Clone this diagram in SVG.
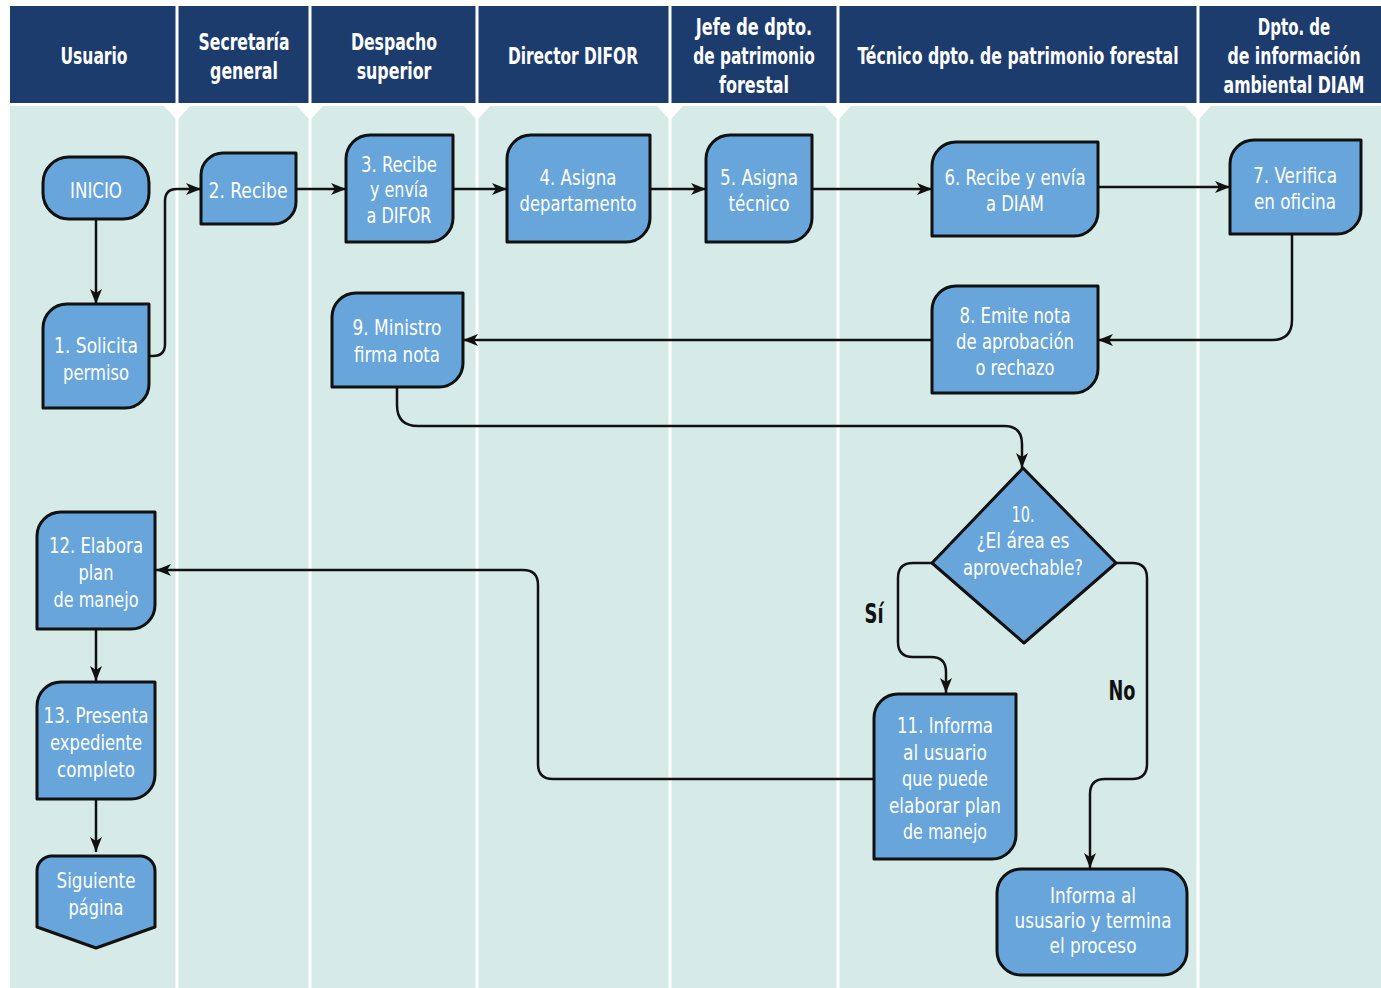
<svg xmlns="http://www.w3.org/2000/svg" width="1381" height="988" viewBox="0 0 1381 988">
<defs>
<style>
.h{font-family:"DejaVu Sans Condensed","DejaVu Sans","Liberation Sans",sans-serif;font-weight:bold;font-size:23px;fill:#fff;text-anchor:middle}
.t{font-family:"DejaVu Sans Condensed","DejaVu Sans","Liberation Sans",sans-serif;font-size:22px;fill:#fff;text-anchor:middle}
.l{font-family:"DejaVu Sans Condensed","DejaVu Sans","Liberation Sans",sans-serif;font-weight:bold;font-size:26px;fill:#111;text-anchor:middle}
.b{fill:#67a5da;stroke:#111;stroke-width:3;stroke-linejoin:round}
.c{fill:none;stroke:#111;stroke-width:2.5}
.sep{stroke:#fff;stroke-width:3}
</style>
<marker id="ah" markerUnits="userSpaceOnUse" markerWidth="16" markerHeight="12" refX="15" refY="6" orient="auto">
<path d="M0,0 L15,6 L0,12 L4,6 Z" fill="#111"/>
</marker>
</defs>
<rect x="0" y="0" width="1381" height="988" fill="#fff"/>
<g id="lanes">
<rect x="10" y="6" width="1371" height="97" fill="#1d3c6e"/>
<rect x="10" y="106" width="1371" height="882" fill="#d6ebe8"/>
<g class="sep">
<line x1="177" y1="6" x2="177" y2="988"/>
<line x1="310" y1="6" x2="310" y2="988"/>
<line x1="477" y1="6" x2="477" y2="988"/>
<line x1="670" y1="6" x2="670" y2="988"/>
<line x1="838" y1="6" x2="838" y2="988"/>
<line x1="1198" y1="6" x2="1198" y2="988"/>
</g>
<g fill="#fff">
<polygon points="163,105 191,105 177,120"/>
<polygon points="296,105 324,105 310,120"/>
<polygon points="463,105 491,105 477,120"/>
<polygon points="656,105 684,105 670,120"/>
<polygon points="824,105 852,105 838,120"/>
<polygon points="1184,105 1212,105 1198,120"/>
</g>
<text class="h" transform="translate(94,64) scale(0.77,1)" textLength="87" lengthAdjust="spacingAndGlyphs">Usuario</text>
<text class="h" transform="translate(244,50) scale(0.77,1)" textLength="118" lengthAdjust="spacingAndGlyphs">Secretaría</text>
<text class="h" transform="translate(244,79) scale(0.77,1)" textLength="88" lengthAdjust="spacingAndGlyphs">general</text>
<text class="h" transform="translate(394,50) scale(0.77,1)" textLength="112" lengthAdjust="spacingAndGlyphs">Despacho</text>
<text class="h" transform="translate(394,79) scale(0.77,1)" textLength="97" lengthAdjust="spacingAndGlyphs">superior</text>
<text class="h" transform="translate(573,64) scale(0.77,1)" textLength="169" lengthAdjust="spacingAndGlyphs">Director DIFOR</text>
<text class="h" transform="translate(754,35) scale(0.77,1)" textLength="151" lengthAdjust="spacingAndGlyphs">Jefe de dpto.</text>
<text class="h" transform="translate(754,64) scale(0.77,1)" textLength="158" lengthAdjust="spacingAndGlyphs">de patrimonio</text>
<text class="h" transform="translate(754,93) scale(0.77,1)" textLength="91" lengthAdjust="spacingAndGlyphs">forestal</text>
<text class="h" transform="translate(1018,64) scale(0.77,1)" textLength="417" lengthAdjust="spacingAndGlyphs">Técnico dpto. de patrimonio forestal</text>
<text class="h" transform="translate(1294,35) scale(0.77,1)" textLength="94" lengthAdjust="spacingAndGlyphs">Dpto. de</text>
<text class="h" transform="translate(1294,64) scale(0.77,1)" textLength="173" lengthAdjust="spacingAndGlyphs">de información</text>
<text class="h" transform="translate(1294,93) scale(0.77,1)" textLength="183" lengthAdjust="spacingAndGlyphs">ambiental DIAM</text>
</g>
<g id="connectors">
<path class="c" marker-end="url(#ah)" d="M96,220 V304"/>
<path class="c" marker-end="url(#ah)" d="M149,356 H153 Q165,356 165,344 V201 Q165,189 177,189 H201"/>
<path class="c" marker-end="url(#ah)" d="M296,189 H346"/>
<path class="c" marker-end="url(#ah)" d="M453,189 H507"/>
<path class="c" marker-end="url(#ah)" d="M650,189 H706"/>
<path class="c" marker-end="url(#ah)" d="M812,189 H932"/>
<path class="c" marker-end="url(#ah)" d="M1098,187 H1230"/>
<path class="c" marker-end="url(#ah)" d="M1292,234 V320 Q1292,340 1272,340 H1098"/>
<path class="c" marker-end="url(#ah)" d="M932,340 H463"/>
<path class="c" marker-end="url(#ah)" d="M397,387 V405 Q397,426 418,426 H1004 Q1022,426 1022,444 V468"/>
<path class="c" marker-end="url(#ah)" d="M932,563 H913 Q898,563 898,578 V642 Q898,657 913,657 H931 Q946,657 946,672 V693"/>
<path class="c" marker-end="url(#ah)" d="M1116,563 H1132 Q1147,563 1147,578 V764 Q1147,779 1132,779 H1105 Q1090,779 1090,794 V868"/>
<path class="c" marker-end="url(#ah)" d="M874,779 H553 Q538,779 538,764 V585 Q538,570 523,570 H156"/>
<path class="c" marker-end="url(#ah)" d="M96,629 V681"/>
<path class="c" marker-end="url(#ah)" d="M96,799 V852"/>
<text class="l" x="874" y="623" textLength="19" lengthAdjust="spacingAndGlyphs">Sí</text>
<text class="l" x="1122" y="700" textLength="27" lengthAdjust="spacingAndGlyphs">No</text>
</g>
<g id="inicio">
<rect class="b" x="43" y="157" width="106" height="62" rx="26"/>
<text class="t" x="96" y="198" textLength="52" lengthAdjust="spacingAndGlyphs">INICIO</text>
</g>
<g id="n1">
<path class="b" d="M43,328 A24,24 0 0 1 67,304 H149 V384 A24,24 0 0 1 125,408 H43 Z"/>
<text class="t" x="96" y="353" textLength="84" lengthAdjust="spacingAndGlyphs">1. Solicita</text>
<text class="t" x="96" y="380" textLength="66" lengthAdjust="spacingAndGlyphs">permiso</text>
</g>
<g id="n2">
<path class="b" d="M201,175 A22,22 0 0 1 223,153 H296 V202 A22,22 0 0 1 274,224 H201 Z"/>
<text class="t" x="248" y="198" textLength="79" lengthAdjust="spacingAndGlyphs">2. Recibe</text>
</g>
<g id="n3">
<path class="b" d="M346,159 A24,24 0 0 1 370,135 H453 V218 A24,24 0 0 1 429,242 H346 Z"/>
<text class="t" x="399" y="172" textLength="76" lengthAdjust="spacingAndGlyphs">3. Recibe</text>
<text class="t" x="399" y="197" textLength="58" lengthAdjust="spacingAndGlyphs">y envía</text>
<text class="t" x="399" y="223" textLength="65" lengthAdjust="spacingAndGlyphs">a DIFOR</text>
</g>
<g id="n4">
<path class="b" d="M507,159 A24,24 0 0 1 531,135 H650 V218 A24,24 0 0 1 626,242 H507 Z"/>
<text class="t" x="578" y="185" textLength="77" lengthAdjust="spacingAndGlyphs">4. Asigna</text>
<text class="t" x="578" y="211" textLength="117" lengthAdjust="spacingAndGlyphs">departamento</text>
</g>
<g id="n5">
<path class="b" d="M706,159 A24,24 0 0 1 730,135 H812 V218 A24,24 0 0 1 788,242 H706 Z"/>
<text class="t" x="759" y="185" textLength="78" lengthAdjust="spacingAndGlyphs">5. Asigna</text>
<text class="t" x="759" y="211" textLength="61" lengthAdjust="spacingAndGlyphs">técnico</text>
</g>
<g id="n6">
<path class="b" d="M932,166 A24,24 0 0 1 956,142 H1098 V212 A24,24 0 0 1 1074,236 H932 Z"/>
<text class="t" x="1015" y="185" textLength="141" lengthAdjust="spacingAndGlyphs">6. Recibe y envía</text>
<text class="t" x="1015" y="211" textLength="58" lengthAdjust="spacingAndGlyphs">a DIAM</text>
</g>
<g id="n7">
<path class="b" d="M1230,164 A24,24 0 0 1 1254,140 H1361 V210 A24,24 0 0 1 1337,234 H1230 Z"/>
<text class="t" x="1295" y="183" textLength="84" lengthAdjust="spacingAndGlyphs">7. Verifica</text>
<text class="t" x="1295" y="209" textLength="82" lengthAdjust="spacingAndGlyphs">en oficina</text>
</g>
<g id="n8">
<path class="b" d="M932,310 A24,24 0 0 1 956,286 H1098 V369 A24,24 0 0 1 1074,393 H932 Z"/>
<text class="t" x="1015" y="323" textLength="111" lengthAdjust="spacingAndGlyphs">8. Emite nota</text>
<text class="t" x="1015" y="349" textLength="118" lengthAdjust="spacingAndGlyphs">de aprobación</text>
<text class="t" x="1015" y="375" textLength="79" lengthAdjust="spacingAndGlyphs">o rechazo</text>
</g>
<g id="n9">
<path class="b" d="M332,317 A24,24 0 0 1 356,293 H463 V363 A24,24 0 0 1 439,387 H332 Z"/>
<text class="t" x="397" y="335" textLength="89" lengthAdjust="spacingAndGlyphs">9. Ministro</text>
<text class="t" x="397" y="362" textLength="86" lengthAdjust="spacingAndGlyphs">firma nota</text>
</g>
<g id="n10">
<polygon class="b" points="1023,468 1116,563 1024,643 932,563"/>
<text class="t" x="1023" y="522" textLength="23" lengthAdjust="spacingAndGlyphs">10.</text>
<text class="t" x="1023" y="548" textLength="93" lengthAdjust="spacingAndGlyphs">¿El área es</text>
<text class="t" x="1023" y="575" textLength="120" lengthAdjust="spacingAndGlyphs">aprovechable?</text>
</g>
<g id="n11">
<path class="b" d="M874,718 A24,24 0 0 1 898,694 H1016 V835 A24,24 0 0 1 992,859 H874 Z"/>
<text class="t" x="945" y="733" textLength="96" lengthAdjust="spacingAndGlyphs">11. Informa</text>
<text class="t" x="945" y="760" textLength="84" lengthAdjust="spacingAndGlyphs">al usuario</text>
<text class="t" x="945" y="786" textLength="86" lengthAdjust="spacingAndGlyphs">que puede</text>
<text class="t" x="945" y="813" textLength="112" lengthAdjust="spacingAndGlyphs">elaborar plan</text>
<text class="t" x="945" y="839" textLength="84" lengthAdjust="spacingAndGlyphs">de manejo</text>
</g>
<g id="fin">
<rect class="b" x="997" y="869" width="190" height="106" rx="24"/>
<text class="t" x="1093" y="903" textLength="86" lengthAdjust="spacingAndGlyphs">Informa al</text>
<text class="t" x="1093" y="928" textLength="157" lengthAdjust="spacingAndGlyphs">ususario y termina</text>
<text class="t" x="1093" y="953" textLength="87" lengthAdjust="spacingAndGlyphs">el proceso</text>
</g>
<g id="n12">
<path class="b" d="M37,536 A24,24 0 0 1 61,512 H155 V605 A24,24 0 0 1 131,629 H37 Z"/>
<text class="t" x="96" y="553" textLength="94" lengthAdjust="spacingAndGlyphs">12. Elabora</text>
<text class="t" x="96" y="580" textLength="35" lengthAdjust="spacingAndGlyphs">plan</text>
<text class="t" x="96" y="607" textLength="85" lengthAdjust="spacingAndGlyphs">de manejo</text>
</g>
<g id="n13">
<path class="b" d="M37,706 A24,24 0 0 1 61,682 H155 V775 A24,24 0 0 1 131,799 H37 Z"/>
<text class="t" x="96" y="723" textLength="105" lengthAdjust="spacingAndGlyphs">13. Presenta</text>
<text class="t" x="96" y="750" textLength="92" lengthAdjust="spacingAndGlyphs">expediente</text>
<text class="t" x="96" y="777" textLength="78" lengthAdjust="spacingAndGlyphs">completo</text>
</g>
<g id="sig">
<path class="b" d="M37,871 A15,15 0 0 1 52,856 H140 A15,15 0 0 1 155,871 V927 L96,948 L37,927 Z"/>
<text class="t" x="96" y="888" textLength="79" lengthAdjust="spacingAndGlyphs">Siguiente</text>
<text class="t" x="96" y="915" textLength="55" lengthAdjust="spacingAndGlyphs">página</text>
</g>
</svg>
